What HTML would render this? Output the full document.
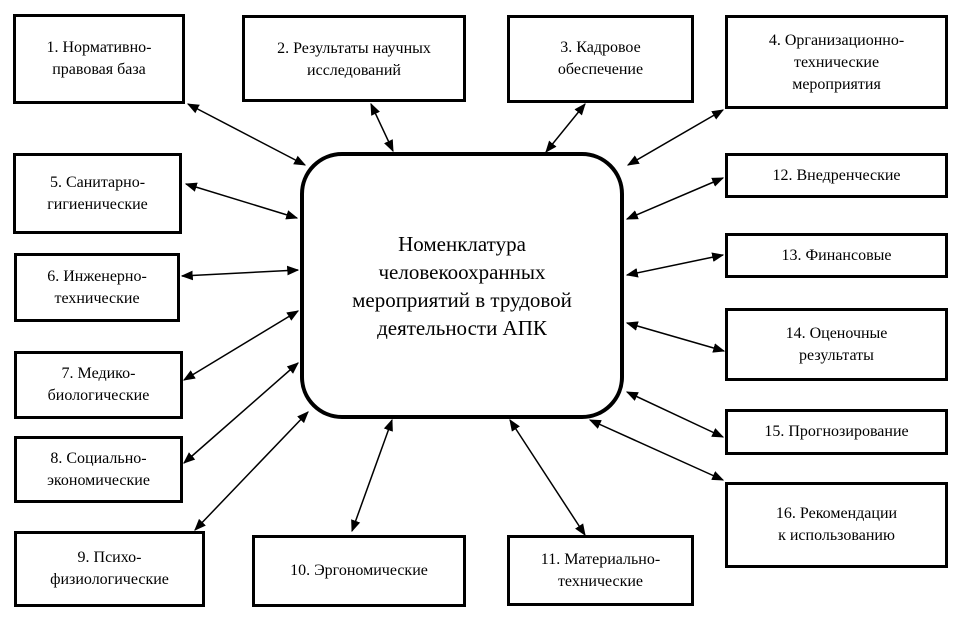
<!DOCTYPE html>
<html><head><meta charset="utf-8"><style>
body{margin:0;background:#fff;width:975px;height:627px;overflow:hidden;position:relative;font-family:"Liberation Serif","DejaVu Serif",serif;color:#000}
.b{position:absolute;box-sizing:border-box;border:3px solid #000;background:#fff;display:flex;align-items:center;justify-content:center;text-align:center;font-size:16px;line-height:22px}
svg{position:absolute;left:0;top:0}
</style></head><body>
<svg width="975" height="627">
<defs><marker id="a" viewBox="0 0 10 10" refX="9" refY="5" markerWidth="8" markerHeight="8" orient="auto-start-reverse"><path d="M0,1 L10,5 L0,9 z" fill="#000"/></marker></defs>
<g stroke="#000" stroke-width="1.5" marker-start="url(#a)" marker-end="url(#a)">
<line x1="188" y1="104" x2="305" y2="165"/>
<line x1="371" y1="104" x2="393" y2="151"/>
<line x1="585" y1="104" x2="546" y2="152"/>
<line x1="723" y1="110" x2="628" y2="165"/>
<line x1="186" y1="184" x2="297" y2="218"/>
<line x1="182" y1="276" x2="298" y2="270"/>
<line x1="184" y1="380" x2="298" y2="311"/>
<line x1="184" y1="463" x2="298" y2="363"/>
<line x1="195" y1="530" x2="308" y2="412"/>
<line x1="352" y1="531" x2="392" y2="420"/>
<line x1="585" y1="535" x2="510" y2="420"/>
<line x1="723" y1="178" x2="627" y2="219"/>
<line x1="723" y1="255" x2="627" y2="275"/>
<line x1="724" y1="351" x2="627" y2="323"/>
<line x1="723" y1="437" x2="627" y2="392"/>
<line x1="723" y1="480" x2="590" y2="420"/>
</g>
</svg>
<div class="b" style="left:300px;top:152px;width:324px;height:267px;border-radius:42px;border-width:4px;font-size:21px;line-height:28px">Номенклатура<br>человекоохранных<br>мероприятий в трудовой<br>деятельности АПК</div>
<div class="b" style="left:13px;top:14px;width:172px;height:90px">1. Нормативно-<br>правовая база</div>
<div class="b" style="left:242px;top:15px;width:224px;height:87px;align-items:flex-start;padding-top:20px">2. Результаты научных<br>исследований</div>
<div class="b" style="left:507px;top:15px;width:187px;height:88px">3. Кадровое<br>обеспечение</div>
<div class="b" style="left:725px;top:15px;width:223px;height:94px;align-items:flex-start;padding-top:12px">4. Организационно-<br>технические<br>мероприятия</div>
<div class="b" style="left:13px;top:153px;width:169px;height:81px">5. Санитарно-<br>гигиенические</div>
<div class="b" style="left:14px;top:253px;width:166px;height:69px">6. Инженерно-<br>технические</div>
<div class="b" style="left:14px;top:351px;width:169px;height:68px">7. Медико-<br>биологические</div>
<div class="b" style="left:14px;top:436px;width:169px;height:67px">8. Социально-<br>экономические</div>
<div class="b" style="left:14px;top:531px;width:191px;height:76px">9. Психо-<br>физиологические</div>
<div class="b" style="left:252px;top:535px;width:214px;height:72px">10. Эргономические</div>
<div class="b" style="left:507px;top:535px;width:187px;height:71px">11. Материально-<br>технические</div>
<div class="b" style="left:725px;top:153px;width:223px;height:45px">12. Внедренческие</div>
<div class="b" style="left:725px;top:233px;width:223px;height:45px">13. Финансовые</div>
<div class="b" style="left:725px;top:308px;width:223px;height:73px">14. Оценочные<br>результаты</div>
<div class="b" style="left:725px;top:409px;width:223px;height:46px">15. Прогнозирование</div>
<div class="b" style="left:725px;top:482px;width:223px;height:86px">16. Рекомендации<br>к использованию</div>
</body></html>
